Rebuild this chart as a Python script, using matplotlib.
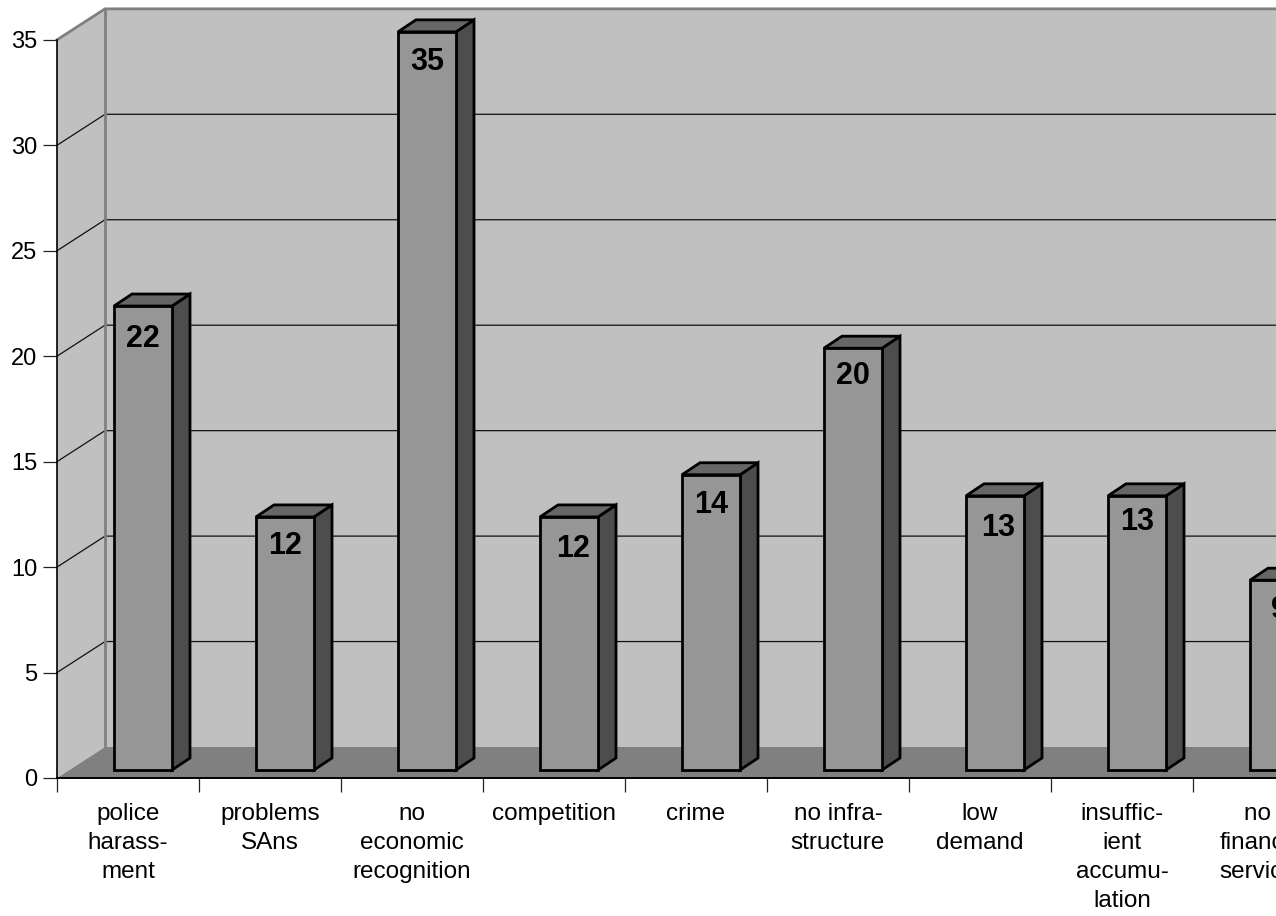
import matplotlib
matplotlib.use("Agg")
import matplotlib.pyplot as plt
from matplotlib.patches import Polygon

plt.rcParams['font.family'] = ['Liberation Sans', 'DejaVu Sans']

# Data
categories = ["police\nharass-\nment", "problems\nSAns", "no\neconomic\nrecognition",
              "competition", "crime", "no infra-\nstructure", "low\ndemand",
              "insuffic-\nient\naccumu-\nlation", "no  \nfinancial\nservices"]
values = [22, 12, 35, 12, 14, 20, 13, 13, 9]
y_ticks = [0, 5, 10, 15, 20, 25, 30, 35]

# Label nudges in data units, the labels are not placed evenly in the original
nudge_x = [0, 0, 0, 0.03, 0, 0, 0.02, 0, 0]
nudge_y = [-1.56, -1.37, -1.42, -1.52, -1.42, -1.33, -1.52, -1.23, -1.42]

# Scale of the picture
slot_px = 142.0
unit_px = 21.09
left_px = 57
base_px = 778
W, H = 1276, 916

# Depth of the 3D box, the bars and the bar offset
depth_x = 48 / slot_px
depth_y = 31 / unit_px
bar_off = 57 / slot_px
bar_w = 58 / slot_px
bar_y = 8 / unit_px
bar_dx = 18 / slot_px
bar_dy = 12 / unit_px

fig = plt.figure(figsize=(W / 100, H / 100), dpi=100, facecolor='white')
ax = fig.add_axes([0, 0, 1, 1])
ax.set_facecolor('none')
x_min, x_max = -left_px / slot_px, (W - left_px) / slot_px
y_min, y_max = (base_px - H) / unit_px, base_px / unit_px
ax.set_xlim(x_min, x_max)
ax.set_ylim(y_min, y_max)

top = y_ticks[-1]

# Walls and floor
ax.add_patch(Polygon([(depth_x, depth_y), (x_max, depth_y), (x_max, top + depth_y), (depth_x, top + depth_y)],
                     fc='#c0c0c0', ec='none', zorder=1))
ax.add_patch(Polygon([(0, 0), (depth_x, depth_y), (depth_x, top + depth_y), (0, top)],
                     fc='#c0c0c0', ec='none', zorder=1))
ax.add_patch(Polygon([(0, 0), (x_max, 0), (x_max, depth_y), (depth_x, depth_y)],
                     fc='#808080', ec='none', zorder=1))

# Gridlines
for v in y_ticks[1:-1]:
    ax.plot([0, depth_x, x_max], [v, v + depth_y, v + depth_y], color='#111111', lw=0.9, zorder=2)

# Grey edges of the box
ax.plot([0, depth_x, x_max], [top, top + depth_y, top + depth_y], color='#808080', lw=2.0, zorder=3)
ax.plot([depth_x, depth_x], [depth_y, top + depth_y], color='#808080', lw=2.0, zorder=3)

# Bars
for i, v in enumerate(values):
    x0 = i + bar_off
    x1 = x0 + bar_w
    y0 = bar_y
    y1 = bar_y + v
    ax.add_patch(Polygon([(x1, y0), (x1 + bar_dx, y0 + bar_dy), (x1 + bar_dx, y1 + bar_dy), (x1, y1)],
                         fc='#4d4d4d', ec='black', lw=2.0, joinstyle='miter', zorder=4))
    ax.add_patch(Polygon([(x0, y1), (x1, y1), (x1 + bar_dx, y1 + bar_dy), (x0 + bar_dx, y1 + bar_dy)],
                         fc='#666666', ec='black', lw=2.0, joinstyle='miter', zorder=4))
    ax.add_patch(Polygon([(x0, y0), (x1, y0), (x1, y1), (x0, y1)],
                         fc='#969696', ec='black', lw=2.0, joinstyle='miter', zorder=5))
    ax.text(x0 + bar_w / 2 + nudge_x[i], y1 + nudge_y[i], str(v), ha='center', va='center',
            fontsize=22, fontweight='bold', color='black', zorder=6)

# Axes
for s in ['top', 'right']:
    ax.spines[s].set_visible(False)
ax.spines['left'].set_position(('data', 0))
ax.spines['bottom'].set_position(('data', 0))
ax.spines['left'].set_bounds(0, top)
ax.spines['bottom'].set_bounds(0, x_max)
ax.spines['left'].set_linewidth(1.2)
ax.spines['bottom'].set_linewidth(1.4)
ax.spines['left'].set_zorder(7)
ax.spines['bottom'].set_zorder(7)

ax.set_yticks(y_ticks)
ax.tick_params(axis='y', length=10, width=0.9, color='#222222', labelsize=17, pad=4)

ax.set_xticks(range(len(categories)))
ax.set_xticklabels([])
ax.tick_params(axis='x', which='major', direction='out', length=10, width=0.9, color='#222222')
ax.set_xticks([i + 0.5 for i in range(len(categories))], categories, minor=True)
ax.tick_params(axis='x', which='minor', length=0, labelsize=17.5, pad=18)
for lab in ax.get_xticklabels(minor=True):
    lab.set_linespacing(1.41)
    lab.set_color('black')

fig.savefig('out.png', dpi=100, facecolor='white')
